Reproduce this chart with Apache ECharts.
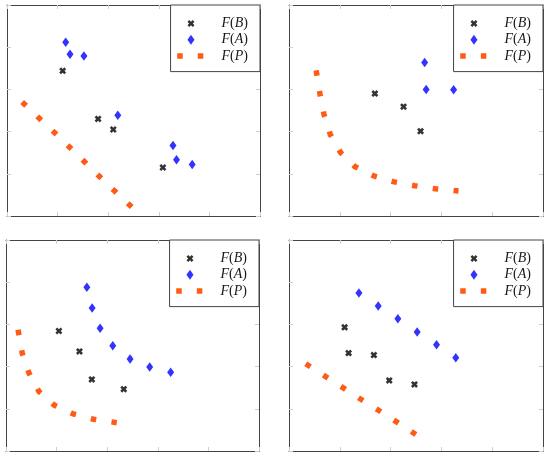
<!DOCTYPE html>
<html><head><meta charset="utf-8">
<script src="https://cdn.jsdelivr.net/npm/echarts@6/dist/echarts.min.js"></script>
<style>html,body{margin:0;padding:0;background:#fff}#c{width:550px;height:456px}</style>
</head><body><div id="c"></div>
<script>
// ---- data ----
const seriesNames = ['F(B)', 'F(A)', 'F(P)'];
const axisMin = 0, axisMax = 5, tickStep = 1;

const p1FB = [[1.10,3.44],[1.80,2.30],[2.10,2.05],[3.08,1.15]];
const p1FA = [[1.16,4.12],[1.245,3.83],[1.52,3.79],[2.19,2.39],[3.28,1.67],[3.35,1.33],[3.66,1.22]];
const p1FP = [[0.299,2.703],[0.638,2.315],[0.943,1.974],[1.239,1.628],[1.536,1.280],[1.824,0.941],[2.128,0.592],[2.474,0.204]];

const p2FB = [[1.69,2.90],[2.255,2.59],[2.59,2.01]];
const p2FA = [[2.67,3.64],[2.70,3.00],[3.24,2.99]];
const p2FP = [[0.535,3.452],[0.61,2.89],[0.688,2.41],[0.812,1.936],[1.017,1.50],[1.298,1.17],[1.671,0.948],[2.051,0.813],[2.471,0.718],[2.871,0.647],[3.337,0.593]];

const p3FB = [[1.045,2.843],[1.452,2.36],[1.696,1.696],[2.327,1.466]];
const p3FA = [[1.598,3.88],[1.702,3.39],[1.86,2.907],[2.11,2.494],[2.452,2.178],[2.84,1.988],[3.254,1.869]];
const p3FP = [[0.238,2.873],[0.321,2.313],[0.454,1.846],[0.651,1.411],[0.953,1.086],[1.327,0.879],[1.728,0.753],[2.189,0.671]];

const p4FB = [[1.095,2.93],[1.173,2.32],[1.671,2.273],[1.973,1.672],[2.47,1.577]];
const p4FA = [[1.376,3.746],[1.756,3.437],[2.143,3.135],[2.523,2.82],[2.904,2.518],[3.283,2.209]];
const p4FP = [[0.330,2.067],[0.727,1.758],[1.076,1.489],[1.422,1.221],[1.770,0.960],[2.118,0.689],[2.507,0.382]];

const panels = [
  {B: p1FB, A: p1FA, P: p1FP},
  {B: p2FB, A: p2FA, P: p2FP},
  {B: p3FB, A: p3FA, P: p3FP},
  {B: p4FB, A: p4FA, P: p4FP}
];

// ---- layout / style ----
const gridBoxes = [
  {left: 7, top: 5, width: 253, height: 211},
  {left: 289, top: 5, width: 254, height: 211},
  {left: 6, top: 240, width: 253, height: 211},
  {left: 289, top: 240, width: 254, height: 211}
];
const colB = '#000000', colA = '#0000ff', colP = '#ff5a16';
const axisLineColor = '#444444', tickColor = '#cfcfcf';
const dashLen = 5.5, dashPeriod = 20.9;

function xPoly(s, t, ox, oy) {
  const d = t / Math.SQRT2, h = s / 2;
  const pts = [[d,0],[h,h-d],[s-d,0],[s,d],[h+d,h],[s,s-d],[s-d,s],[h,h+d],[d,s],[0,s-d],[h-d,h],[0,d]];
  return 'M' + pts.map(p => (p[0]+ox).toFixed(2) + ',' + (p[1]+oy).toFixed(2)).join('L') + 'Z';
}
const xSize = 7, xThick = 2.6;
const symX = 'path://' + xPoly(xSize, xThick, 0, 0);
const LW = 40, LH = 10;
const frame = 'M0,0M' + LW + ',' + LH;
const iconX = 'path://' + frame + xPoly(xSize, xThick, 14.4 - xSize/2, LH/2 - xSize/2);
const iconA = 'path://' + frame + 'M14.4,0L17.9,5L14.4,10L10.9,5Z';
const iconP = 'path://' + frame +
  'M0.65,2.25L6.15,2.25L6.15,7.75L0.65,7.75Z' +
  'M21.25,2.25L26.75,2.25L26.75,7.75L21.25,7.75Z';

function mkAxis(dim, gi, pos) {
  return {
    type: 'value', gridIndex: gi, position: pos,
    min: axisMin, max: axisMax, interval: tickStep,
    axisLine: {show: true, onZero: false, lineStyle: {color: axisLineColor, width: 1}},
    axisTick: {show: true, inside: true, length: 4, lineStyle: {color: tickColor, width: 1}},
    axisLabel: {show: false}, splitLine: {show: false}
  };
}

const grid = [], xAxis = [], yAxis = [], series = [], legend = [];
const txt = {fontFamily: 'Liberation Serif', fontSize: 14, color: '#1a1a1a', lineHeight: 10};

panels.forEach((p, gi) => {
  const g = gridBoxes[gi];
  grid.push({left: g.left, top: g.top, width: g.width, height: g.height, containLabel: false});
  xAxis.push(mkAxis('x', gi, 'bottom'), mkAxis('x', gi, 'top'));
  yAxis.push(mkAxis('y', gi, 'left'), mkAxis('y', gi, 'right'));
  const ax = {xAxisIndex: gi * 2, yAxisIndex: gi * 2};
  series.push({
    name: seriesNames[0], type: 'scatter', ...ax, data: p.B,
    symbol: symX, symbolSize: xSize, itemStyle: {color: colB}, z: 4
  });
  series.push({
    name: seriesNames[1], type: 'scatter', ...ax, data: p.A,
    symbol: 'diamond', symbolSize: [7, 9.5], itemStyle: {color: colA}, z: 4
  });
  series.push({
    name: seriesNames[2], type: 'line', ...ax, data: p.P,
    symbol: 'none', showSymbol: false, itemStyle: {color: colP},
    lineStyle: {color: colP, width: dashLen, type: [dashLen, dashPeriod - dashLen], cap: 'butt', join: 'miter'},
    z: 3
  });
  legend.push({
    orient: 'vertical',
    right: 550 - (g.left + g.width),
    top: g.top,
    padding: [11.5, 12, 8.5, 6],
    itemWidth: LW, itemHeight: LH, itemGap: 2.3,
    backgroundColor: '#fff', borderColor: '#444', borderWidth: 1, borderRadius: 0,
    selectedMode: false,
    itemStyle: {borderWidth: 0},
    data: [
      {name: seriesNames[0], icon: iconX},
      {name: seriesNames[1], icon: iconA},
      {name: seriesNames[2], icon: iconP}
    ],
    formatter: name => {
      const m = name.match(/^(\w)\((\w)\)$/);
      return '{i|' + m[1] + '}{r|(}{i|' + m[2] + '}{r|)}';
    },
    textStyle: Object.assign({}, txt, {
      rich: {
        i: Object.assign({}, txt, {fontStyle: 'italic'}),
        r: Object.assign({}, txt)
      }
    })
  });
});

const chart = echarts.init(document.getElementById('c'), null, {renderer: 'canvas'});
chart.setOption({animation: false, backgroundColor: '#fff', grid, xAxis, yAxis, series, legend});
</script>
</body></html>
